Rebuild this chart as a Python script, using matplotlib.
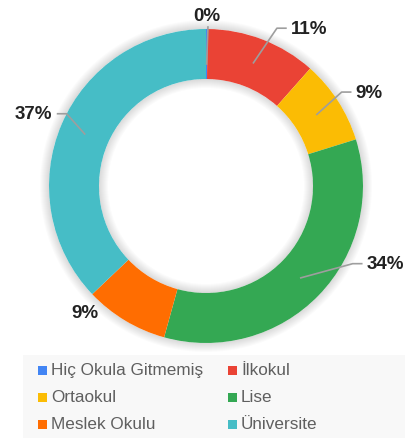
import numpy as np
import matplotlib.pyplot as plt
from matplotlib.patches import Rectangle, Wedge

plt.rcParams['font.family'] = ['Liberation Sans', 'DejaVu Sans']

# data
categories = ['Hiç Okula Gitmemiş', 'İlkokul', 'Ortaokul', 'Lise', 'Meslek Okulu', 'Üniversite']
values = [0.15, 11.4, 8.65, 34.1, 8.6, 37.1]
pct_labels = ['0%', '11%', '9%', '34%', '9%', '37%']
colors = ['#4285F4', '#EA4335', '#FBBC04', '#34A853', '#FF6D01', '#46BDC6']

# label elbows: angle clockwise from top (deg), radius (px)
label_angle = [0.7, 24.2, 55.3, 117.9, 216.4, 297.4]
label_r = [159, 173, 165, 166, 157, 157]
show_line = [True, True, True, True, False, True]

W, H = 406, 439
cx, cy = 206, H - 187
R, ring = 157, 50

fig = plt.figure(figsize=(W / 100, H / 100), dpi=100)
ax = fig.add_axes([0, 0, 1, 1])

# soft shadow around the ring
for d in range(1, 10):
    ax.add_patch(Wedge((cx, cy), R + d, 0, 360, width=d, color='#000000',
                       alpha=0.016, lw=0, zorder=0))
    ax.add_patch(Wedge((cx, cy), R - ring, 0, 360, width=d, color='#000000',
                       alpha=0.016, lw=0, zorder=0))

ax.pie(values, colors=colors, startangle=90, counterclock=False,
       center=(cx, cy), radius=R,
       wedgeprops=dict(width=ring, edgecolor='none', linewidth=0))

# leader lines and percentage labels
frac = np.array(values) / sum(values)
cum = np.cumsum(frac) - frac / 2
for i, lab in enumerate(pct_labels):
    a0 = np.deg2rad(cum[i] * 360)
    rm = R - ring / 2
    x0, y0 = cx + rm * np.sin(a0), cy + rm * np.cos(a0)
    a1 = np.deg2rad(label_angle[i])
    x1, y1 = cx + label_r[i] * np.sin(a1), cy + label_r[i] * np.cos(a1)
    if i == 0:
        ax.plot([x0, x1], [y0 - 10, y1], color='#9e9e9e', lw=1.2, zorder=3)
        ax.text(x1 - 1, y1 + 3, lab, ha='center', va='bottom', fontsize=13.5,
                fontweight='bold', color='#222222')
        continue
    side = 1 if np.sin(a1) > 0 else -1
    if show_line[i]:
        ax.plot([x0, x1, x1 + side * 9], [y0, y1, y1], color='#9e9e9e', lw=1.2, zorder=3)
    ax.text(x1 + side * 14, y1, lab, ha='left' if side > 0 else 'right',
            va='center', fontsize=13.5, fontweight='bold', color='#222222')

# legend box
ax.add_patch(Rectangle((23, 0), W - 23, H - 356, color='#f8f8f8', lw=0, zorder=0))
col_x = [38, 228]
row_y = [H - 371, H - 398, H - 425]
for i, name in enumerate(categories):
    x = col_x[i % 2]
    y = row_y[i // 2]
    ax.add_patch(Rectangle((x, y - 4.5), 9, 9, color=colors[i], lw=0))
    ax.text(x + 13, y, name, ha='left', va='center', fontsize=12.3, color='#5f5f5f')

ax.set_xlim(0, W)
ax.set_ylim(0, H)
ax.set_aspect('auto')
ax.axis('off')

fig.savefig('out.png', dpi=100)
